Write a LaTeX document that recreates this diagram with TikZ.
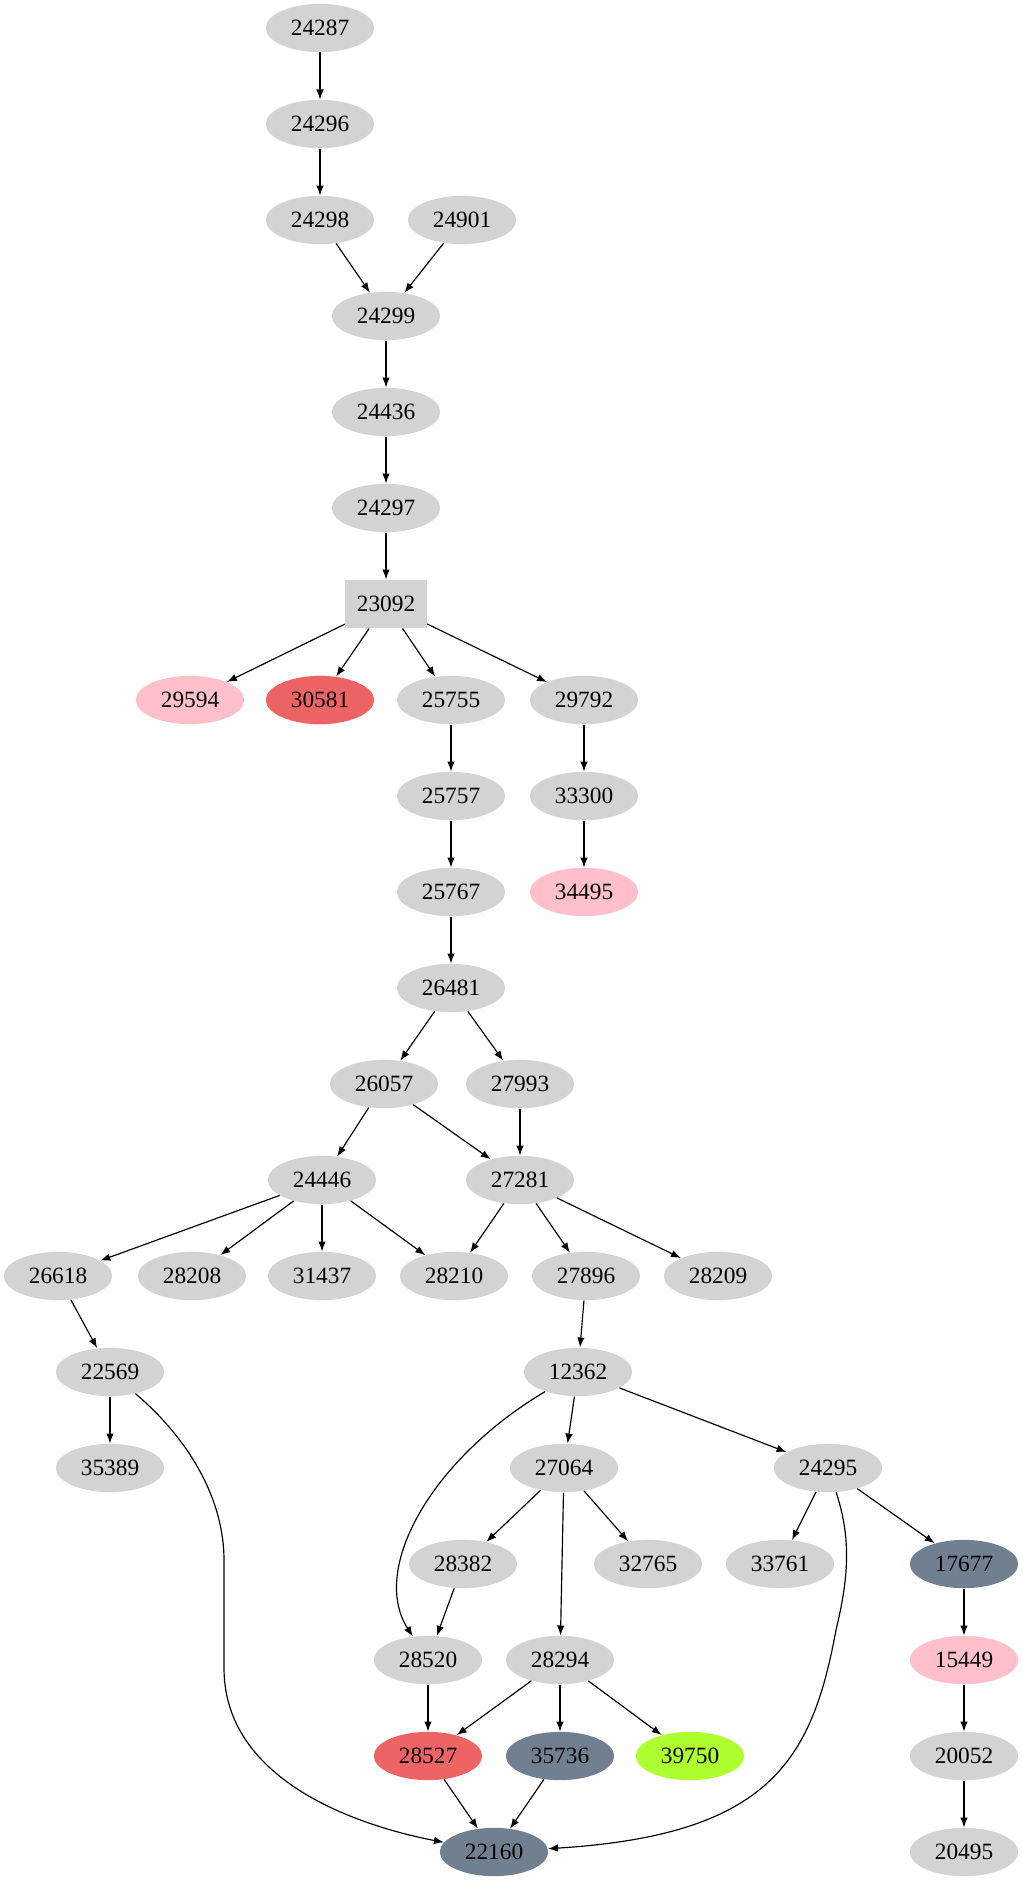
\documentclass[tikz,border=0pt]{standalone}
\usepackage{fontspec}
\setmainfont{Liberation Serif}
\usetikzlibrary{shapes.geometric,arrows.meta}
\definecolor{gnode}{HTML}{D3D3D3}
\definecolor{pnode}{HTML}{FFC0CB}
\definecolor{rnode}{HTML}{EE6363}
\definecolor{snode}{HTML}{708090}
\definecolor{ynode}{HTML}{ADFF2F}
\begin{document}
\begin{tikzpicture}[x=0.6pt,y=-0.6pt,
    every node/.style={ellipse,fill=gnode,minimum width=65pt,minimum height=29pt,inner sep=0pt,font=\fontsize{14}{16}\selectfont},
    boxnode/.style={rectangle,minimum width=49pt,minimum height=29pt},
    pk/.style={fill=pnode},rd/.style={fill=rnode},sl/.style={fill=snode},gy/.style={fill=ynode},
    arr/.style={draw,line width=0.7pt,-{Latex[length=6pt,width=4.5pt]}}]
  \useasboundingbox (0,0) rectangle (1023,1883);
  % ranks are 96px apart
  \node (n24287) at (320,28) {24287};
  \node (n24296) at (320,124) {24296};
  \node (n24298) at (320,220) {24298};
  \node (n24901) at (462,220) {24901};
  \node (n24299) at (386,316) {24299};
  \node (n24436) at (386,412) {24436};
  \node (n24297) at (386,508) {24297};
  \node[boxnode] (n23092) at (386,604) {23092};
  \node[pk] (n29594) at (190,700) {29594};
  \node[rd] (n30581) at (320,700) {30581};
  \node (n25755) at (451,700) {25755};
  \node (n29792) at (584,700) {29792};
  \node (n25757) at (451,796) {25757};
  \node (n33300) at (584,796) {33300};
  \node (n25767) at (451,892) {25767};
  \node[pk] (n34495) at (584,892) {34495};
  \node (n26481) at (451,988) {26481};
  \node (n26057) at (384,1084) {26057};
  \node (n27993) at (520,1084) {27993};
  \node (n24446) at (322,1180) {24446};
  \node (n27281) at (520,1180) {27281};
  \node (n26618) at (58,1276) {26618};
  \node (n28208) at (192,1276) {28208};
  \node (n31437) at (322,1276) {31437};
  \node (n28210) at (454,1276) {28210};
  \node (n27896) at (586,1276) {27896};
  \node (n28209) at (718,1276) {28209};
  \node (n22569) at (110,1372) {22569};
  \node (n12362) at (578,1372) {12362};
  \node (n35389) at (110,1468) {35389};
  \node (n27064) at (564,1468) {27064};
  \node (n24295) at (828,1468) {24295};
  \node (n28382) at (463,1564) {28382};
  \node (n32765) at (648,1564) {32765};
  \node (n33761) at (780,1564) {33761};
  \node[sl] (n17677) at (964,1564) {17677};
  \node (n28520) at (428,1660) {28520};
  \node (n28294) at (560,1660) {28294};
  \node[pk] (n15449) at (964,1660) {15449};
  \node[rd] (n28527) at (428,1756) {28527};
  \node[sl] (n35736) at (560,1756) {35736};
  \node[gy] (n39750) at (690,1756) {39750};
  \node (n20052) at (964,1756) {20052};
  \node[sl] (n22160) at (494,1852) {22160};
  \node (n20495) at (964,1852) {20495};
  \foreach \a/\b in {24287/24296,24296/24298,24298/24299,24901/24299,24299/24436,
      24436/24297,24297/23092,23092/29594,23092/30581,23092/25755,23092/29792,
      25755/25757,25757/25767,25767/26481,29792/33300,33300/34495,26481/26057,
      26481/27993,26057/24446,26057/27281,27993/27281,24446/26618,24446/28208,
      24446/31437,24446/28210,27281/28210,27281/27896,27281/28209,26618/22569,
      27896/12362,22569/35389,12362/27064,12362/24295,27064/28382,27064/32765,
      27064/28294,24295/33761,24295/17677,28382/28520,17677/15449,28520/28527,
      28294/28527,28294/35736,28294/39750,15449/20052,20052/20495,28527/22160,
      35736/22160}
    \path[arr] (n\a) -- (n\b);
  \path[arr] (n22569) .. controls (190,1440) and (224,1500) .. (224,1560) -- (224,1668)
    .. controls (224,1790) and (380,1830) .. (n22160);
  \path[arr] (n12362) .. controls (430,1460) and (370,1570) .. (n28520);
  \path[arr] (n24295) .. controls (852,1540) and (848,1580) .. (836,1630)
    .. controls (812,1760) and (770,1835) .. (n22160);
\end{tikzpicture}
\end{document}
